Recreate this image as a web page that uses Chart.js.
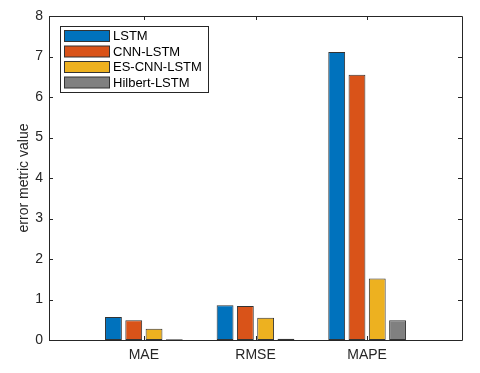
<!DOCTYPE html>
<html>
<head>
<meta charset="utf-8">
<script src="https://cdn.jsdelivr.net/npm/chart.js@4/dist/chart.umd.min.js"></script>
<style>
  html, body { margin: 0; padding: 0; background: #fff; }
  #wrap { width: 480px; height: 373px; }
</style>
</head>
<body>
<div id="wrap"><canvas id="grafico"></canvas></div>
<script>
// datos
const categorias = ['MAE', 'RMSE', 'MAPE'];
const modelos = ['LSTM', 'CNN-LSTM', 'ES-CNN-LSTM', 'Hilbert-LSTM'];
const lstm = [0.57, 0.86, 7.11];
const cnnLstm = [0.49, 0.84, 6.55];
const esCnnLstm = [0.28, 0.55, 1.52];
const hilbertLstm = [0.02, 0.03, 0.49];
const yTicks = [0, 1, 2, 3, 4, 5, 6, 7, 8];

const colores = ['#0072BD', '#D95319', '#EDB120', '#808080'];
const series = [lstm, cnnLstm, esCnnLstm, hilbertLstm];
const ejeColor = '#262626';
const fuente = 'Liberation Sans, Arial, Helvetica, sans-serif';

// caja, marcas hacia adentro y leyenda estilo MATLAB
const cajaMatlab = {
    id: 'cajaMatlab',
    afterDraw(chart) {
        const ctx = chart.ctx;
        const a = chart.chartArea;
        const x = chart.scales.x, y = chart.scales.y;
        ctx.save();
        ctx.strokeStyle = ejeColor;
        ctx.lineWidth = 1;
        ctx.beginPath();
        ctx.rect(Math.round(a.left) + 0.5, Math.round(a.top) + 0.5,
                 Math.round(a.right - a.left), Math.round(a.bottom - a.top));
        ctx.stroke();
        ctx.beginPath();
        yTicks.forEach(v => {
            const py = Math.round(y.getPixelForValue(v)) + 0.5;
            ctx.moveTo(a.left, py); ctx.lineTo(a.left + 4, py);
            ctx.moveTo(a.right, py); ctx.lineTo(a.right - 4, py);
        });
        categorias.forEach((c, i) => {
            const px = Math.round(x.getPixelForValue(i + 1)) + 0.5;
            ctx.moveTo(px, a.bottom); ctx.lineTo(px, a.bottom - 4);
            ctx.moveTo(px, a.top); ctx.lineTo(px, a.top + 4);
        });
        ctx.stroke();

        // leyenda
        const lx = 60.5, ly = 26.5, lw = 148, lh = 66;
        ctx.fillStyle = '#fff';
        ctx.fillRect(lx, ly, lw, lh);
        ctx.strokeStyle = ejeColor;
        ctx.strokeRect(lx, ly, lw, lh);
        ctx.font = '13px ' + fuente;
        ctx.textBaseline = 'middle';
        chart.data.datasets.forEach((ds, i) => {
            const cy = 36 + i * 15.5;
            ctx.fillStyle = ds.backgroundColor;
            ctx.fillRect(64.5, cy - 5.5, 45, 11);
            ctx.strokeStyle = '#333';
            ctx.strokeRect(64.5, cy - 5.5, 45, 11);
            ctx.fillStyle = '#000';
            ctx.fillText(ds.label, 113, cy + 0.5);
        });
        ctx.restore();
    }
};

window.onload = function () {
    const ctx = document.getElementById('grafico');
    new Chart(ctx.getContext('2d'), {
        type: 'bar',
        data: {
            datasets: modelos.map((m, i) => ({
                label: m,
                data: series[i].map((v, j) => ({ x: j + 1, y: v })),
                backgroundColor: colores[i],
                borderColor: '#333',
                borderWidth: 1,
                borderSkipped: false,
                inflateAmount: 0,
                categoryPercentage: 0.727,
                barPercentage: 0.83
            }))
        },
        options: {
            responsive: true,
            maintainAspectRatio: false,
            animation: false,
            layout: {
                padding: { top: 16, right: 18, left: 0, bottom: 0 }
            },
            scales: {
                x: {
                    type: 'linear',
                    min: 0.15,
                    max: 3.85,
                    offset: false,
                    grid: { display: false, offset: false, drawTicks: false },
                    border: { display: false },
                    afterBuildTicks: (scale) => {
                        scale.ticks = categorias.map((c, i) => ({ value: i + 1 }));
                    },
                    afterFit: (scale) => { scale.height = 33; },
                    ticks: {
                        padding: 7,
                        color: ejeColor,
                        font: { family: fuente, size: 14 },
                        callback: (v) => categorias[v - 1] || ''
                    }
                },
                y: {
                    min: 0,
                    max: 8,
                    grid: { display: false, drawTicks: false },
                    border: { display: false },
                    afterFit: (scale) => { scale.width = 49; },
                    ticks: {
                        stepSize: 1,
                        padding: 6,
                        color: ejeColor,
                        font: { family: fuente, size: 14 }
                    },
                    title: {
                        display: true,
                        text: 'error metric value',
                        color: ejeColor,
                        padding: { top: 16, bottom: 0 },
                        font: { family: fuente, size: 14 }
                    }
                }
            },
            plugins: {
                legend: { display: false },
                tooltip: { enabled: false }
            }
        },
        plugins: [cajaMatlab]
    });
};
</script>
</body>
</html>
